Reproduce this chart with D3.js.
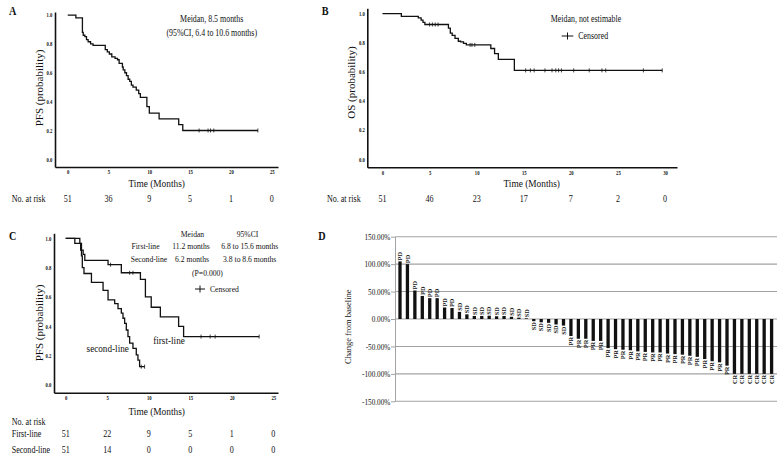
<!DOCTYPE html>
<html><head><meta charset="utf-8">
<script src="https://cdn.jsdelivr.net/npm/d3@7"></script>
<style>
body{margin:0;background:#fff}
svg{display:block}
text{font-family:"Liberation Serif","Times New Roman",serif;fill:#111}
</style>
</head><body><svg id="c" width="777" height="456"></svg>
<script>
// ---------------- DATA ----------------
// Panel A: PFS (all patients) – step times (months) and survival after each step
const pfsTime = [0, 1.0, 1.8, 1.9, 2.1, 2.3, 2.5, 2.8, 3.1, 4.6, 4.85, 5.1, 5.4, 5.8, 6.1, 6.3, 6.7, 6.8, 7.0, 7.2, 7.4, 7.6, 7.8, 8.0, 8.4, 8.7, 8.9, 9.7, 10.0, 11.2, 13.6, 14.1];
const pfsSurv = [1.0, 0.98, 0.88, 0.86, 0.85, 0.83, 0.815, 0.80, 0.79, 0.76, 0.745, 0.73, 0.71, 0.70, 0.69, 0.665, 0.64, 0.62, 0.60, 0.58, 0.555, 0.54, 0.515, 0.50, 0.48, 0.455, 0.43, 0.365, 0.32, 0.28, 0.24, 0.20];
const pfsEnd = 23.3;
const pfsCensor = [16.1, 17.2, 17.5, 17.9, 23.3];
const pfsTicks = [0, 5, 10, 15, 20, 25];
const pfsRisk = [51, 36, 9, 5, 1, 0];

// Panel B: OS
const osTime = [0, 2.0, 3.8, 4.1, 4.3, 4.5, 7.0, 7.2, 7.4, 7.7, 8.05, 8.3, 8.6, 8.9, 11.5, 11.9, 12.3, 14.0];
const osSurv = [1.0, 0.98, 0.97, 0.955, 0.94, 0.925, 0.90, 0.865, 0.85, 0.83, 0.81, 0.805, 0.795, 0.785, 0.76, 0.725, 0.685, 0.61];
const osEnd = 29.7;
const osCensor = [5.0, 5.3, 5.6, 5.9, 9.3, 9.5, 9.8, 15.2, 15.7, 16.1, 17.25, 18.0, 18.4, 18.7, 19.0, 20.3, 21.95, 23.3, 23.7, 27.7, 29.7];
const osTicks = [0, 5, 10, 15, 20, 25, 30];
const osRisk = [51, 46, 23, 17, 7, 2, 0];

// Panel C: PFS by line of therapy
const firstTime = [0, 1.7, 1.9, 2.1, 2.3, 5.1, 6.7, 9.0, 9.6, 10.3, 11.4, 13.6, 14.2];
const firstSurv = [1.0, 0.965, 0.92, 0.89, 0.85, 0.82, 0.765, 0.72, 0.60, 0.53, 0.465, 0.40, 0.33];
const firstEnd = 23.3;
const firstCensor = [5.4, 7.7, 8.1, 16.3, 17.4, 18.0, 23.3];
const secondTime = [0, 1.1, 1.8, 1.9, 2.0, 2.2, 3.1, 4.5, 5.1, 5.9, 6.3, 6.7, 6.9, 7.1, 7.3, 7.5, 7.7, 8.1, 8.5, 8.7, 8.9];
const secondSurv = [1.0, 0.965, 0.92, 0.88, 0.80, 0.76, 0.70, 0.645, 0.58, 0.555, 0.52, 0.49, 0.455, 0.42, 0.375, 0.33, 0.285, 0.25, 0.205, 0.17, 0.125];
const secondEnd = 9.5;
const secondCensor = [9.1, 9.5];
const cTicks = [0, 5, 10, 15, 20, 25];
const firstRisk = [51, 22, 9, 5, 1, 0];
const secondRisk = [51, 14, 0, 0, 0, 0];
const probTicks = [0, 0.2, 0.4, 0.6, 0.8, 1.0];

// Panel D: waterfall – best change from baseline (%) and response
const wfValues = [105, 100, 52, 42, 38, 38, 21, 20, 13, 8.5, 5.5, 5.5, 6, 5, 5.5, 4, 2.5, 1.2,
  -4, -6, -7, -10, -12,
  -31, -36, -36, -40, -40, -53, -55, -56, -57, -59, -60, -61, -61, -63, -64, -65, -67, -69, -73, -77, -79, -85,
  -100, -100, -100, -100, -100, -100];
const wfResponse = [].concat(Array(8).fill("PD"), Array(15).fill("SD"), Array(22).fill("PR"), Array(6).fill("CR"));
const wfTicks = [-150, -100, -50, 0, 50, 100, 150];

// ---------------- DRAWING ----------------
const svg = d3.select("#c");
const SX = 0.85;   // horizontal squeeze of the source figure

function htext(g, x, y, s, size, anchor = "middle", weight = "normal") {
  return g.append("text")
    .attr("transform", `translate(${x},${y}) scale(${SX},1)`)
    .attr("text-anchor", anchor).attr("font-size", size).attr("font-weight", weight).text(s);
}
function vtext(g, x, y, s, size) {
  return g.append("text")
    .attr("transform", `translate(${x},${y}) rotate(-90)`)
    .attr("text-anchor", "middle").attr("font-size", size).text(s);
}

function kmAxes(g, x, y, xTicks) {
  const ax = g.append("g").attr("transform", `translate(0,${y.range()[0]})`)
    .call(d3.axisBottom(x).tickValues(xTicks).tickSize(0).tickSizeOuter(0).tickPadding(3.5));
  const ay = g.append("g").attr("transform", `translate(${x.range()[0]},0)`)
    .call(d3.axisLeft(y).tickValues(probTicks).tickFormat(d3.format(".1f")).tickSize(0).tickSizeOuter(0).tickPadding(3));
  [ax, ay].forEach(a => {
    a.select(".domain").attr("stroke", "#111").attr("stroke-width", 1.6);
    a.selectAll("text").attr("font-size", 5.5).attr("font-weight", "bold")
      .attr("font-family", '"Liberation Serif",serif').attr("fill", "#222")
      .attr("transform", `scale(${SX},1)`);
  });
}

function drawKM(g, x, y, times, surv, end, censors) {
  const pts = times.map((t, i) => [t, surv[i]]).concat([[end, surv[surv.length - 1]]]);
  g.append("path")
    .attr("d", d3.line().x(d => x(d[0])).y(d => y(d[1])).curve(d3.curveStepAfter)(pts))
    .attr("fill", "none").attr("stroke", "#111").attr("stroke-width", 1.3);
  const sAt = t => { let s = surv[0]; times.forEach((tt, i) => { if (tt <= t) s = surv[i]; }); return s; };
  g.selectAll(null).data(censors).join("line")
    .attr("x1", d => x(d)).attr("x2", d => x(d))
    .attr("y1", d => y(sAt(d)) - 2).attr("y2", d => y(sAt(d)) + 2)
    .attr("stroke", "#111").attr("stroke-width", 0.8);
}

function cross(g, x1, x2, y) {
  g.append("line").attr("x1", x1).attr("x2", x2).attr("y1", y).attr("y2", y).attr("stroke", "#111").attr("stroke-width", 1);
  const cx = (x1 + x2) / 2;
  g.append("line").attr("x1", cx).attr("x2", cx).attr("y1", y - 3.5).attr("y2", y + 3.5).attr("stroke", "#111").attr("stroke-width", 1);
}

// ---- Panel A ----
{
  const g = svg.append("g");
  const x = d3.scaleLinear().domain([-1.56, 25.77]).range([55, 278]);
  const y = d3.scaleLinear().domain([-0.053, 1.021]).range([167, 12]);
  kmAxes(g, x, y, pfsTicks);
  drawKM(g, x, y, pfsTime, pfsSurv, pfsEnd, pfsCensor);
  htext(g, 9, 15, "A", 12, "start", "bold");
  htext(g, 211.7, 21.5, "Meidan, 8.5 months", 9.3);
  htext(g, 211.7, 35.5, "(95%CI, 6.4 to 10.6 months)", 9.3);
  htext(g, 156.7, 186.7, "Time (Months)", 11);
  vtext(g, 42.5, 88, "PFS (probability)", 11);
  htext(g, 11.7, 202.3, "No. at risk", 9.5, "start");
  pfsRisk.forEach((r, i) => htext(g, x(pfsTicks[i]), 202.3, r, 9.5));
}

// ---- Panel B ----
{
  const g = svg.append("g");
  const x = d3.scaleLinear().domain([-1.614, 31.27]).range([367.3, 677]);
  const y = d3.scaleLinear().domain([-0.055, 1.036]).range([167.3, 8.3]);
  kmAxes(g, x, y, osTicks);
  drawKM(g, x, y, osTime, osSurv, osEnd, osCensor);
  htext(g, 321.7, 14.5, "B", 12, "start", "bold");
  htext(g, 586, 21.5, "Meidan, not estimable", 9.3);
  cross(g, 561.7, 573.3, 36);
  htext(g, 578.3, 39, "Censored", 9.3, "start");
  htext(g, 531.7, 186.7, "Time (Months)", 11);
  vtext(g, 354.5, 82.5, "OS (probability)", 11);
  htext(g, 343.8, 202.3, "No. at risk", 9.5);
  osRisk.forEach((r, i) => htext(g, x(osTicks[i]), 202.3, r, 9.5));
}

// ---- Panel C ----
{
  const g = svg.append("g");
  const x = d3.scaleLinear().domain([-1.41, 25.57]).range([54, 278]);
  const y = d3.scaleLinear().domain([-0.0525, 1.034]).range([392.7, 233.3]);
  kmAxes(g, x, y, cTicks);
  drawKM(g, x, y, firstTime, firstSurv, firstEnd, firstCensor);
  drawKM(g, x, y, secondTime, secondSurv, secondEnd, secondCensor);
  htext(g, 9, 240, "C", 12, "start", "bold");
  htext(g, 192.5, 237, "Meidan", 9);
  htext(g, 247.5, 237, "95%CI", 9);
  htext(g, 131.5, 248.5, "First-line", 9, "start");
  htext(g, 191, 248.5, "11.2 months", 9);
  htext(g, 249.7, 248.5, "6.8 to 15.6 months", 9);
  htext(g, 130.7, 261.8, "Second-line", 9, "start");
  htext(g, 192, 261.8, "6.2 months", 9);
  htext(g, 249.7, 261.8, "3.8 to 8.6 months", 9);
  htext(g, 207.5, 276, "(P=0.000)", 9);
  cross(g, 195, 205, 289);
  htext(g, 210, 292.2, "Censored", 9, "start");
  htext(g, 107.7, 352, "second-line", 10.8);
  htext(g, 169, 344.3, "first-line", 10.8);
  htext(g, 156.7, 415.3, "Time (Months)", 11);
  vtext(g, 42.5, 323, "PFS (probability)", 11);
  htext(g, 11.7, 425, "No. at risk", 9.5, "start");
  htext(g, 11.7, 436.7, "First-line", 9.5, "start");
  htext(g, 11.7, 452.5, "Second-line", 9.5, "start");
  firstRisk.forEach((r, i) => htext(g, x(cTicks[i]), 436.7, r, 9.5));
  secondRisk.forEach((r, i) => htext(g, x(cTicks[i]), 452.5, r, 9.5));
}

// ---- Panel D ----
{
  const g = svg.append("g");
  const idx = d3.range(wfValues.length);
  const x = d3.scalePoint().domain(idx).range([400, 771.6]);
  const y = d3.scaleLinear().domain([-150, 150]).range([401.3, 236.7]);
  const left = 395, right = 777;
  // gridlines
  g.append("g").selectAll("line").data(wfTicks).join("line")
    .attr("x1", left).attr("x2", right).attr("y1", d => y(d)).attr("y2", d => y(d))
    .attr("stroke", "#a3a3a3").attr("stroke-width", 1.1);
  const ay = g.append("g").attr("transform", `translate(${left},0)`)
    .call(d3.axisLeft(y).tickValues(wfTicks).tickFormat(v => v.toFixed(2) + "%").tickSize(4).tickSizeOuter(0).tickPadding(1.5));
  ay.select(".domain").attr("stroke", "#a3a3a3");
  ay.selectAll(".tick line").attr("stroke", "#a3a3a3");
  ay.selectAll("text").attr("font-size", 8.5).attr("font-family", '"Liberation Serif",serif').attr("fill", "#222")
    .attr("transform", `scale(${SX},1)`);
  // bars
  const bw = 3.3;
  g.append("g").selectAll("rect").data(idx).join("rect")
    .attr("x", i => x(i) - bw / 2).attr("width", bw)
    .attr("y", i => y(Math.max(0, wfValues[i])))
    .attr("height", i => Math.abs(y(wfValues[i]) - y(0)))
    .attr("fill", "#111");
  // response labels
  g.append("g").selectAll("text").data(idx).join("text")
    .attr("transform", i => `translate(${x(i)},${wfValues[i] >= 0 ? y(wfValues[i]) - 1 : y(wfValues[i]) + 1}) rotate(-90)`)
    .attr("text-anchor", i => wfValues[i] >= 0 ? "start" : "end")
    .attr("dy", "0.35em")
    .attr("font-size", 6.3).attr("font-family", '"Liberation Sans",Arial,sans-serif').attr("font-weight", "bold")
    .attr("fill", "#222")
    .text(i => wfResponse[i]);
  htext(g, 318.3, 239.5, "D", 12, "start", "bold");
  vtext(g, 351, 326.7, "Change from baseline", 8.5);
}
</script>
</body></html>
